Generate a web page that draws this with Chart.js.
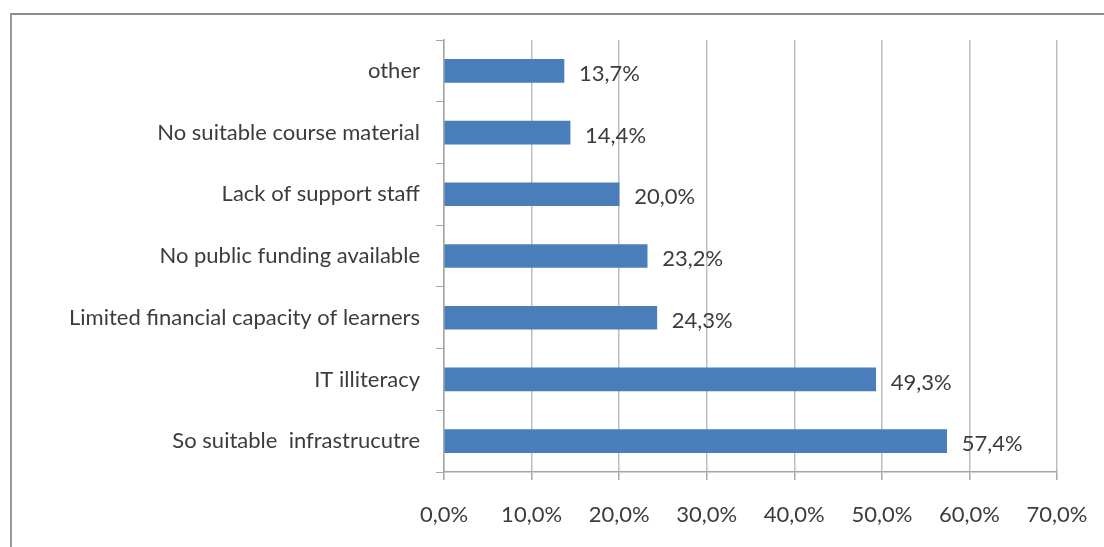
<!DOCTYPE html>
<html>
<head>
<meta charset="utf-8">
<script src="https://cdn.jsdelivr.net/npm/chart.js@4"></script>
<style>
  html, body { margin: 0; padding: 0; background: #fff; }
  #wrap { position: relative; width: 1104px; height: 547px; }
  #frame {
    position: absolute; left: 10px; top: 13px; right: 0; bottom: 0;
    border-left: 2px solid #9a9a9a; border-top: 2px solid #8c8c8c;
    pointer-events: none;
  }
  canvas { position: absolute; left: 0; top: 0; }
</style>
</head>
<body>
<div id="wrap">
  <canvas id="barrierChart" width="1104" height="547"></canvas>
  <div id="frame"></div>
</div>
<script>
// barriers, top to bottom
const categories = [
  'other',
  'No suitable course material',
  'Lack of support staff',
  'No public funding available',
  'Limited financial capacity of learners',
  'IT illiteracy',
  'So suitable  infrastrucutre'
];
const shares = [13.7, 14.4, 20.0, 23.2, 24.3, 49.3, 57.4];
const xTicks = [0, 10, 20, 30, 40, 50, 60, 70];

const FONT = 'Lato, "Open Sans", sans-serif';
const TEXT = '#3c3c3c';
const fmt = v => v.toFixed(1).replace('.', ',') + '%';

// value labels to the right of each bar
const barLabels = {
  id: 'barLabels',
  afterDatasetsDraw(chart) {
    const ctx = chart.ctx;
    const meta = chart.getDatasetMeta(0);
    ctx.save();
    ctx.font = '22px ' + FONT;
    ctx.fillStyle = TEXT;
    ctx.textAlign = 'left';
    ctx.textBaseline = 'middle';
    meta.data.forEach((bar, i) => {
      ctx.fillText(fmt(shares[i]), bar.x + 15, bar.y + 3);
    });
    ctx.restore();
  }
};

new Chart(document.getElementById('barrierChart'), {
  type: 'bar',
  data: {
    labels: categories,
    datasets: [{
      data: shares,
      backgroundColor: '#4a7ebb',
      borderWidth: 0,
      barThickness: 23
    }]
  },
  options: {
    indexAxis: 'y',
    responsive: false,
    animation: false,
    layout: { padding: { top: 40, right: 47, left: 0, bottom: 0 } },
    plugins: { legend: { display: false }, tooltip: { enabled: false } },
    scales: {
      x: {
        min: 0, max: 70,
        afterBuildTicks: s => { s.ticks = xTicks.map(v => ({ value: v })); },
        afterFit: s => { s.height = 75; s.paddingRight = 0; },
        border: { color: '#a6a6a6', width: 1.5 },
        grid: { color: '#bdbdbd', lineWidth: 1.5, tickLength: 8, tickColor: '#a6a6a6' },
        ticks: {
          color: TEXT, font: { family: FONT, size: 22 }, padding: 22,
          maxRotation: 0,
          callback: v => fmt(v)
        }
      },
      y: {
        afterFit: s => { s.width = 444; },
        border: { color: '#a6a6a6', width: 1.5 },
        grid: { offset: true, drawOnChartArea: false, tickLength: 8, tickColor: '#a6a6a6' },
        ticks: { color: TEXT, font: { family: FONT, size: 22 }, padding: 16 }
      }
    }
  },
  plugins: [barLabels]
});
</script>
</body>
</html>
